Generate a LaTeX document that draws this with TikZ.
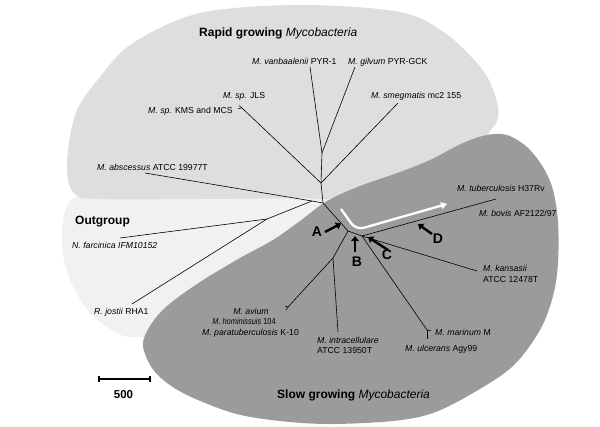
\documentclass[tikz,border=0pt]{standalone}
\usepackage{fontspec}
\setmainfont{Liberation Sans}
\usetikzlibrary{arrows.meta}
\definecolor{rapidgray}{RGB}{222,222,222}
\definecolor{outgray}{RGB}{241,241,241}
\definecolor{slowgray}{RGB}{155,155,155}
\tikzset{
  branch/.style={line width=0.6pt, draw=black},
  lbl/.style={font=\fontsize{8.7}{10}\selectfont, inner sep=0pt, anchor=base west},
  ttl/.style={font=\fontsize{12}{14}\selectfont\bfseries, inner sep=0pt, anchor=base west},
  ptr/.style={line width=2.4pt, draw=black, -{Triangle[length=5pt,width=7.5pt]}},
  ptrlbl/.style={font=\fontsize{14}{16}\selectfont\bfseries, inner sep=0pt, anchor=center},
  whitearrow/.style={line width=2.3pt, draw=white, rounded corners=8pt, -{Triangle[length=6pt,width=7pt]}},
}
\begin{document}
\begin{tikzpicture}[x=1pt,y=-1pt]
\useasboundingbox (0,0) rectangle (600,426);
% regions
\fill[outgray] plot[smooth cycle, tension=0.55] coordinates {
 (80,196) (65,212) (62,246) (70,280) (90,313) (117,333) (135,337) (160,330)
 (240,266) (336,203) (250,192) (150,192)};
\fill[rapidgray] plot[smooth cycle, tension=0.55] coordinates {
 (300,5) (400,12) (445,33) (476,62) (490,82) (498,107) (497,121) (490,131) (480,143)
 (430,164) (336,197) (300,198) (200,199) (96,199) (76,195) (68,180) (68,150)
 (77,110) (100,77) (133,43) (200,13)};
\fill[slowgray] plot[smooth cycle, tension=0.55] coordinates {
 (400,172) (430,160) (463,143) (487,135) (507,135) (527,147) (543,167) (553,190)
 (558,222) (558,263) (553,296) (540,330) (513,366) (473,393) (433,413)
 (393,421) (330,424) (280,421) (233,413) (183,393) (155,372) (143,346)
 (150,326) (167,306) (200,282) (240,258) (273,240) (300,221) (327,201) (360,186)};

% tree coordinates
\coordinate (C0) at (323,203);
\coordinate (N1) at (321,183);
\coordinate (N2) at (322,153);
\coordinate (Evan) at (310,67);
\coordinate (Egil) at (355,67);
\coordinate (Esme) at (398,103);
\coordinate (Fkms) at (242,108);
\coordinate (Ejls) at (239,105.5);
\coordinate (Ekms) at (238,108.5);
\coordinate (Eabs) at (145,173);
\coordinate (O1) at (312,201);
\coordinate (O2) at (267,219);
\coordinate (Efar) at (120,238);
\coordinate (Ejos) at (132,304);
\coordinate (S1) at (348,231);
\coordinate (S2) at (362,236);
\coordinate (I1) at (333,258);
\coordinate (Fav) at (288,307);
\coordinate (Eav1) at (285,306);
\coordinate (Eav2) at (286,310);
\coordinate (Eint) at (338,332);
\coordinate (Ebov) at (496,199);
\coordinate (Ekan) at (477,271);
\coordinate (Fmar) at (427,330);
\coordinate (Emar) at (431,330.5);
\coordinate (Eulc) at (427,339);
\coordinate (Etub) at (443,184);

% branches
\draw[branch] (C0) -- (N1) -- (N2) -- (Evan);
\draw[branch] (N2) -- (Egil);
\draw[branch] (N1) -- (Esme);
\draw[branch] (N1) -- (Fkms) -- (Ejls);
\draw[branch] (Fkms) -- (Ekms);
\draw[branch] (C0) -- (O1) -- (Eabs);
\draw[branch] (O1) -- (O2) -- (Efar);
\draw[branch] (O2) -- (Ejos);
\draw[branch] (C0) -- (S1) -- (S2);
\draw[branch] (S1) -- (I1) -- (Fav) -- (Eav1);
\draw[branch] (Fav) -- (Eav2);
\draw[branch] (I1) -- (Eint);
\draw[branch] (S2) -- (Ebov);
\draw[branch] (S2) -- (Ekan);
\draw[branch] (S2) -- (Fmar) -- (Emar);
\draw[branch] (Fmar) -- (Eulc);
\fill[black!60] (Etub) circle (0.6);

% white arrow
\coordinate (W0) at (341,209);
\coordinate (W1) at (356,230);
\coordinate (W2) at (447,204);
\draw[whitearrow] (W0) -- (W1) -- (W2);

% pointer arrows
\coordinate (Atl) at (325,232); \coordinate (Ahd) at (341,223.5);
\coordinate (Btl) at (355,252); \coordinate (Bhd) at (355,236);
\coordinate (Ctl) at (388,250); \coordinate (Chd) at (368,237);
\coordinate (Dtl) at (432,234); \coordinate (Dhd) at (418,224);
\draw[ptr] (Atl) -- (Ahd);
\draw[ptr] (Btl) -- (Bhd);
\draw[ptr] (Ctl) -- (Chd);
\draw[ptr] (Dtl) -- (Dhd);
\node[ptrlbl] (pA) at (317,232) {A};
\node[ptrlbl] (pB) at (357,262) {B};
\node[ptrlbl] (pC) at (387,255) {C};
\node[ptrlbl] (pD) at (438,239) {D};

% labels
\node[lbl] (lvan) at (252,64) {\textit{M. vanbaalenii} PYR-1};
\node[lbl] (lgil) at (348,64) {\textit{M. gilvum} PYR-GCK};
\node[lbl] (ljls) at (223,98) {\textit{M. sp.} JLS};
\node[lbl] (lkms) at (148,113) {\textit{M. sp.} KMS and MCS};
\node[lbl] (lsme) at (371,98) {\textit{M. smegmatis} mc2 155};
\node[lbl] (labs) at (97,170) {\textit{M. abscessus} ATCC 19977T};
\node[lbl] (ltub) at (457,191) {\textit{M. tuberculosis} H37Rv};
\node[lbl] (lbov) at (479,216) {\textit{M. bovis} AF2122/97};
\node[lbl] (lkan1) at (483,271) {\textit{M. kansasii}};
\node[lbl] (lkan2) at (483,282) {ATCC 12478T};
\node[lbl] (lmar) at (435,335) {\textit{M. marinum} M};
\node[lbl] (lulc) at (405,351) {\textit{M. ulcerans} Agy99};
\node[lbl] (lint1) at (317,343) {\textit{M. intracellulare}};
\node[lbl] (lint2) at (317,353) {ATCC 13950T};
\node[lbl, anchor=base] (lav1) at (251,314) {\textit{M. avium}};
\node[lbl, anchor=base] (lav2) at (244,324.5) {\scalebox{0.85}[1]{\textit{M. hominissuis} 104}};
\node[lbl, anchor=base] (lav3) at (250.5,335) {\textit{M. paratuberculosis} K-10};
\node[lbl] (lfar) at (72,248) {\textit{N. farcinica IFM10152}};
\node[lbl] (ljos) at (94,314) {\textit{R. jostii} RHA1};

% titles
\node[ttl] (trap) at (199,36) {Rapid growing \textit{\mdseries Mycobacteria}};
\node[ttl] (tout) at (75,224) {Outgroup};
\node[ttl] (tslow) at (277,398) {Slow growing \textit{\mdseries Mycobacteria}};

% scale bar
\coordinate (sb1) at (99,379);
\coordinate (sb2) at (150,379);
\draw[line width=1.3pt] (sb1) -- (sb2);
\draw[line width=1.1pt] ([yshift=-3pt]sb1) -- ([yshift=3pt]sb1);
\draw[line width=1.1pt] ([yshift=-3pt]sb2) -- ([yshift=3pt]sb2);
\node[ttl, anchor=base, font=\fontsize{11.5}{13}\selectfont\bfseries] (tsc) at (123.5,398) {500};
\end{tikzpicture}
\end{document}
